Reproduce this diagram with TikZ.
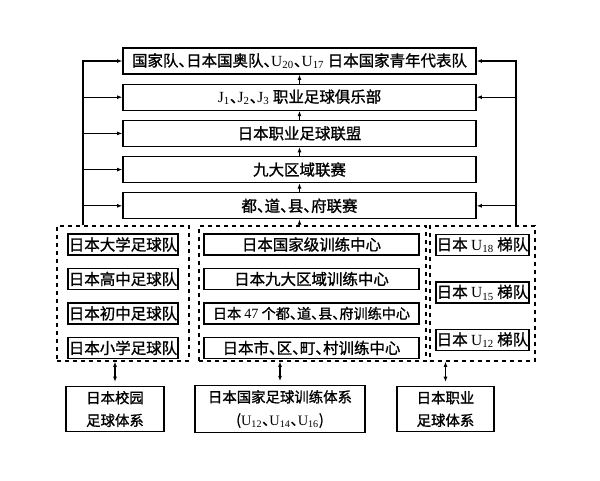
\documentclass[tikz,border=0pt]{standalone}
\usepackage{fontspec}
\setmainfont{Noto Sans CJK SC}[FakeBold=1.2]
\newfontfamily\tnr{Liberation Serif}
\usetikzlibrary{positioning,arrows.meta}
\newcommand\dun{\makebox[0.5em][l]{、}}
\newcommand\Usub[1]{{\tnr U\textsubscript{#1}}}
\newcommand\Jsub[1]{{\tnr J\textsubscript{#1}}}

\begin{document}
\begin{tikzpicture}[x=0.75pt,y=-0.75pt,
  font=\fontsize{11.6}{13}\selectfont,
  >={Latex[length=4pt,width=3pt]},
  line width=0.8pt,
  level/.style={draw,line width=0.9pt,minimum width=264.75pt,minimum height=19.5pt,inner sep=0pt},
  team/.style={draw,line width=1.1pt,minimum height=15.75pt,inner sep=0.5pt},
  group/.style={draw,dash pattern=on 3pt off 3pt,inner sep=0pt},
  system/.style={draw,line width=0.9pt,minimum height=33pt,align=center,font=\fontsize{10.8}{17}\selectfont}]
\useasboundingbox (0,0) rectangle (600,480);

\node [level] (t1) at (299.5,61) {国家队\dun 日本国奥队\dun\Usub{20}\dun\Usub{17} 日本国家青年代表队};
\node [level,below=6.75pt of t1] (t2) {\Jsub{1}\dun\Jsub{2}\dun\Jsub{3} 职业足球俱乐部};
\node [level,below=6.75pt of t2] (t3) {日本职业足球联盟};
\node [level,below=6.75pt of t3] (t4) {九大区域联赛};
\node [level,below=6.75pt of t4] (t5) {都\dun 道\dun 县\dun 府联赛};

\node [group,minimum width=99pt,minimum height=101.25pt] (gl) at (123,293.5) {};
\node [group,minimum width=170.25pt,minimum height=101.25pt] (gm) at (312.5,293.5) {};
\node [group,minimum width=78.75pt,minimum height=101.25pt] (gr) at (482.5,293.5) {};

\node [team,minimum width=82.5pt] (l1) at (123,244.5) {日本大学足球队};
\node [team,minimum width=82.5pt,below=9pt of l1] (l2) {日本高中足球队};
\node [team,minimum width=82.5pt,below=9pt of l2] (l3) {日本初中足球队};
\node [team,minimum width=82.5pt,below=9pt of l3] (l4) {日本小学足球队};

\node [team,minimum width=161.25pt] (m1) at (311.5,244.5) {日本国家级训练中心};
\node [team,minimum width=161.25pt,below=9pt of m1] (m2) {日本九大区域训练中心};
\node [team,minimum width=161.25pt,below=9pt of m2,font=\fontsize{10.6}{12}\selectfont] (m3) {日本 {\tnr 47} 个都\dun 道\dun 县\dun 府训练中心};
\node [team,minimum width=161.25pt,below=9pt of m3] (m4) {日本市\dun 区\dun 町\dun 村训练中心};

\node [team,minimum width=68.25pt] (r1) at (482.5,245) {日本 \Usub{18} 梯队};
\node [team,minimum width=68.25pt,below=18.75pt of r1] (r2) {日本 \Usub{15} 梯队};
\node [team,minimum width=68.25pt,below=18.75pt of r2] (r3) {日本 \Usub{12} 梯队};

\node [system,minimum width=73.5pt] (bl) at (115,409) {日本校园\\足球体系};
\node [system,minimum width=127.5pt] (bm) at (280,409) {日本国家足球训练体系\\({\tnr U\textsubscript{12}}\dun{\tnr U\textsubscript{14}}\dun{\tnr U\textsubscript{16}})};
\node [system,minimum width=72.75pt] (br) at (445.5,409) {日本职业\\足球体系};

\coordinate (lx) at (83,0);
\coordinate (rx) at (516,0);

\path [->] (t2) edge (t1);
\path [->] (t3) edge (t2);
\path [->] (t4) edge (t3);
\path [->] (t5) edge (t4);
\draw [->] (t5 |- gm.north) -- (t5);

\draw [->] (lx |- gl.north) -- (lx |- t1) -- (t1.west);
\foreach \n in {t2,t3,t4,t5}
  \draw [->] (lx |- \n) -- (\n.west);
\draw [->] (rx |- gr.north) -- (rx |- t1) -- (t1.east);
\foreach \n in {t2,t5}
  \draw [->] (rx |- \n) -- (\n.east);

\draw [<->,shorten <=3pt] (bl.north) -- (bl.north |- gl.south);
\draw [<->,shorten <=3pt] (bm.north) -- (bm.north |- gm.south);
\draw [<->,shorten <=3pt] (br.north) -- (br.north |- gr.south);

\end{tikzpicture}
\end{document}
